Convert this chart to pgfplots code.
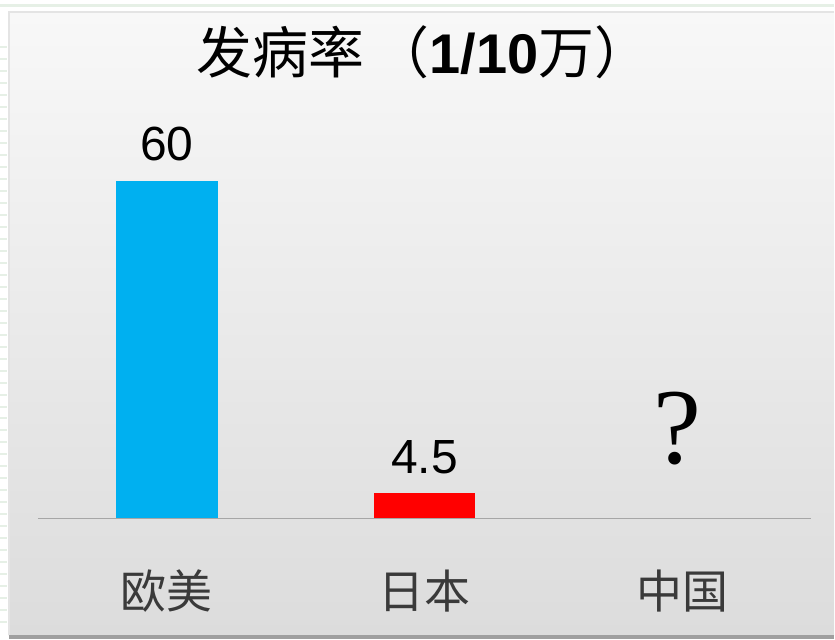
\documentclass[border=0pt]{standalone}
\usepackage{fontspec}
\setmainfont{Liberation Sans}
\newfontfamily\cjk{Noto Sans CJK SC}
\newfontfamily\qfont{Liberation Serif}
\usepackage{pgfplots}
\pgfplotsset{compat=1.18}
\definecolor{barblue}{HTML}{00B0F0}
\definecolor{barred}{HTML}{FF0000}
\definecolor{bgtop}{HTML}{F8F8F8}
\definecolor{bgmid}{HTML}{F0F0F0}
\definecolor{bgbot}{HTML}{DCDCDC}
\definecolor{edge}{HTML}{E4E4E4}
\definecolor{greenline}{HTML}{E6F0E6}
\definecolor{axisgray}{HTML}{A6A6A6}
\definecolor{labelgray}{HTML}{3A3A3A}
\begin{document}
\begin{tikzpicture}[x=1pt,y=1pt]
\fill[white] (0,0) rectangle (835,640);
\fill[greenline] (0,633) rectangle (835,636);
\foreach \yy in {592,580,568,556,544,532,520,508,496,484,472,460,448,436,424,412,400,388,376,364,352,340,328,316,304,292,280,268,256,244,232,220,208,196,184,172,160,148,136,124,112,100,88,76,64,52,40,28,16}
  {\fill[greenline] (0,\yy) rectangle (7,\yy+2);}
\shade[top color=bgtop, middle color=bgmid, bottom color=bgbot] (9,4) rectangle (835,628);
\draw[edge, line width=2pt] (9,4) -- (9,628) -- (835,628);
\fill[gray!75] (9,0) rectangle (835,4);
\begin{axis}[
  at={(38pt,121pt)}, anchor=south west,
  scale only axis,
  width=774pt, height=338pt,
  xmin=-0.5, xmax=2.5, ymin=0, ymax=60,
  axis x line=bottom, axis y line=none,
  x axis line style={-, draw=axisgray, line width=1.2pt},
  xtick={0,1,2},
  xticklabels={欧美,日本,中国},
  xtick style={draw=none},
  xticklabel style={font=\cjk\fontsize{46}{50}\selectfont, text=labelgray, anchor=base, yshift=-86pt},
  ytick=\empty,
  clip=false,
  ybar, bar width=102pt,
  every node near coord/.append style={font=\fontsize{48}{52}\selectfont, anchor=base, yshift=20pt, text=black},
]
\addplot[fill=barblue, draw=none, bar shift=0pt, nodes near coords={60}] coordinates {(0,60)};
\addplot[fill=barred, draw=none, bar shift=0pt, nodes near coords={4.5}] coordinates {(1,4.5)};
\node[font=\qfont\fontsize{108}{110}\selectfont, inner sep=0pt] at (axis cs:1.98,16) {?};
\end{axis}
\node[font=\fontsize{56}{60}\selectfont] at (424,588) {\cjk 发病率\,（\textbf{\rmfamily 1/10}万）};
\end{tikzpicture}
\end{document}
